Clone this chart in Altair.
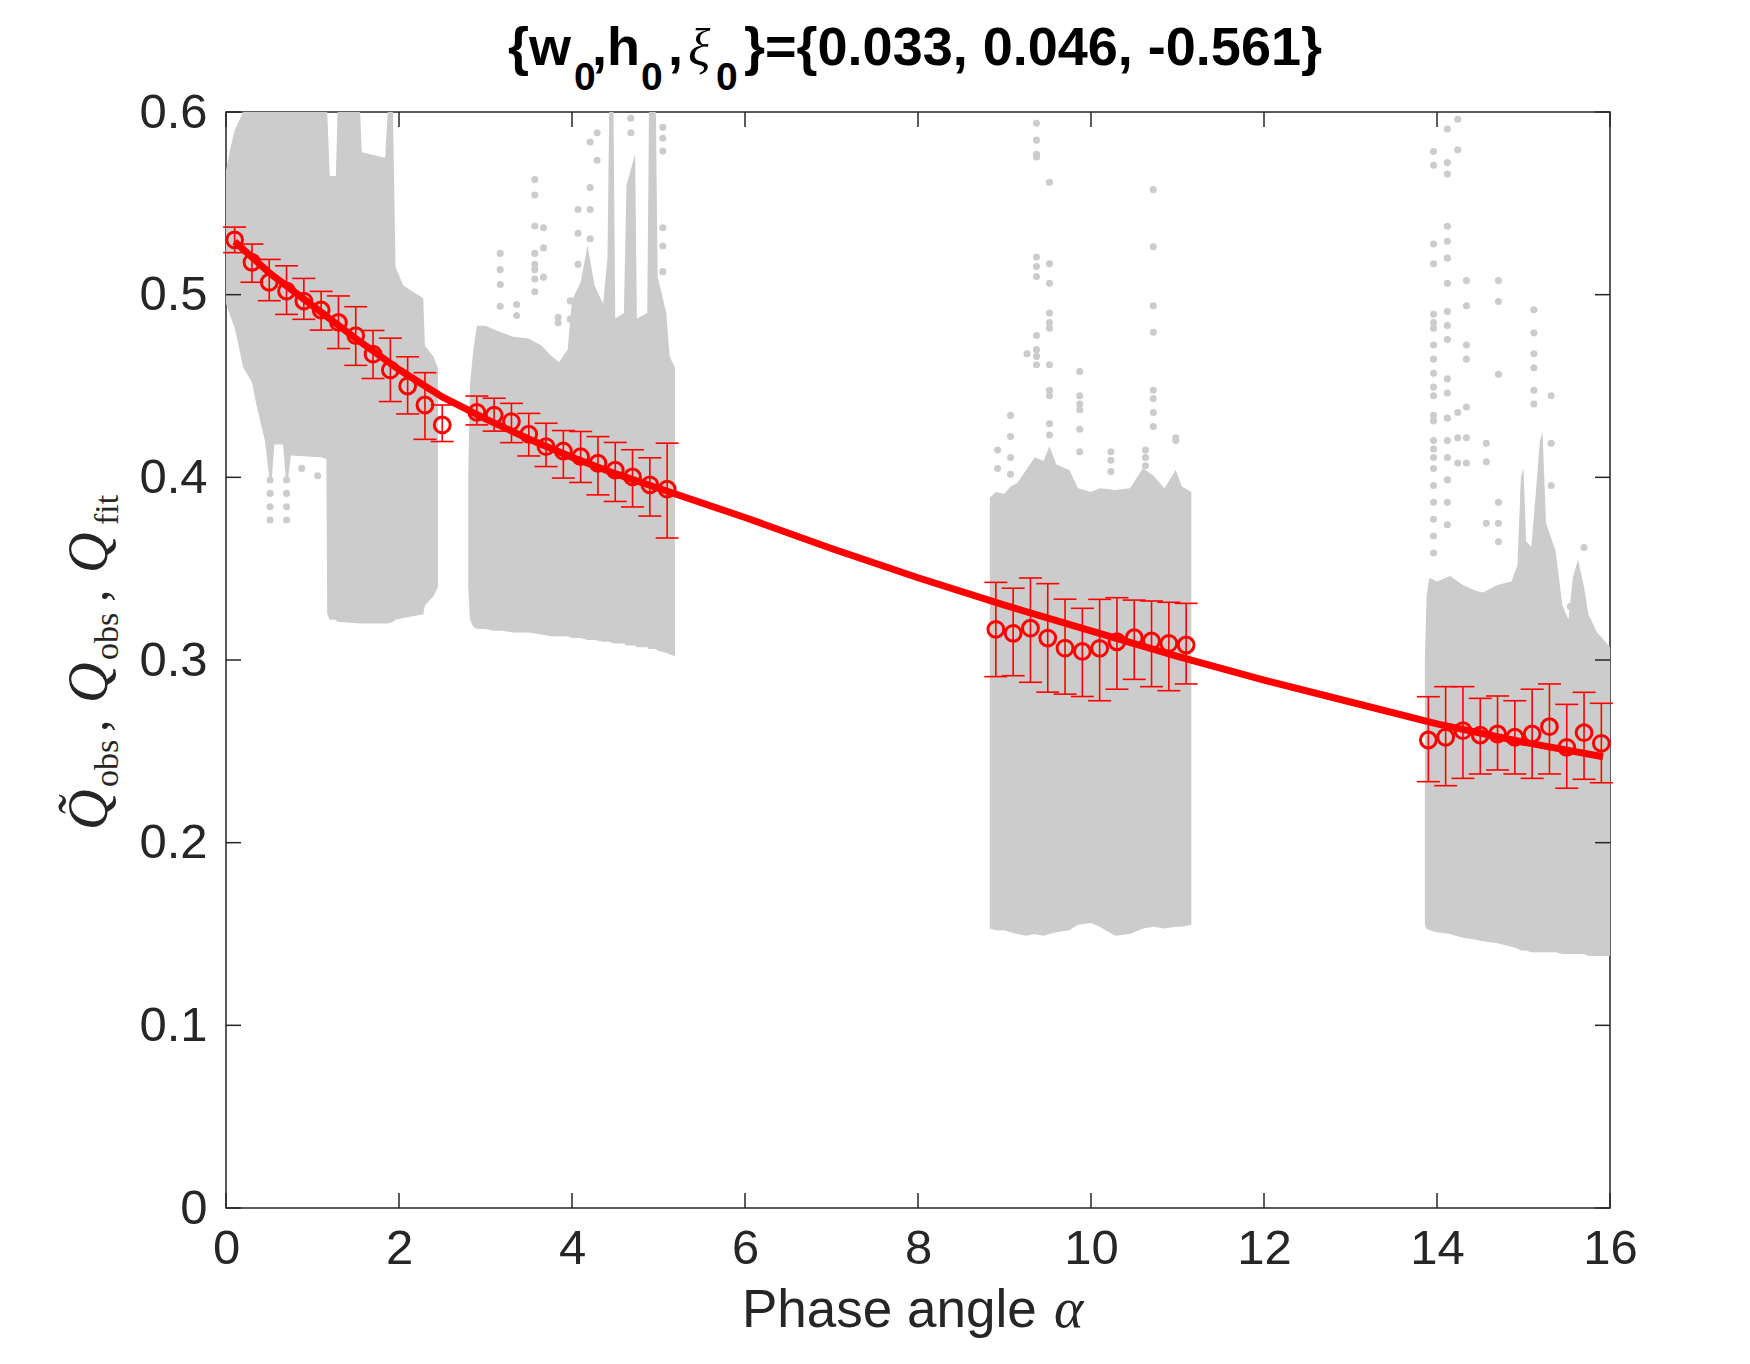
import altair as alt
import pandas as pd

# ---------------- data ----------------
# binned means with error bars
pt_x = [0.1, 0.3, 0.5, 0.7, 0.9, 1.1, 1.3, 1.5, 1.7, 1.9, 2.1, 2.3, 2.5,
        2.9, 3.1, 3.3, 3.5, 3.7, 3.9, 4.1, 4.3, 4.5, 4.7, 4.9, 5.1,
        8.9, 9.1, 9.3, 9.5, 9.7, 9.9, 10.1, 10.3, 10.5, 10.7, 10.9, 11.1,
        13.9, 14.1, 14.3, 14.5, 14.7, 14.9, 15.1, 15.3, 15.5, 15.7, 15.9]
pt_y = [0.5300, 0.5177, 0.5068, 0.5020, 0.4965, 0.4916, 0.4848, 0.4776, 0.4674, 0.4588, 0.4500, 0.4396, 0.4287,
        0.4356, 0.4341, 0.4305, 0.4236, 0.4168, 0.4144, 0.4113, 0.4077, 0.4039, 0.4002, 0.3959, 0.3935,
        0.3168, 0.3146, 0.3174, 0.3120, 0.3065, 0.3047, 0.3064, 0.3100, 0.3122, 0.3104, 0.3091, 0.3082,
        0.2562, 0.2577, 0.2613, 0.2589, 0.2595, 0.2577, 0.2595, 0.2635, 0.2522, 0.2602, 0.2544]
pt_hi = [0.5370, 0.5277, 0.5193, 0.5158, 0.5089, 0.5018, 0.4993, 0.4934, 0.4804, 0.4762, 0.4660, 0.4573, 0.4396,
         0.4445, 0.4433, 0.4405, 0.4350, 0.4296, 0.4256, 0.4251, 0.4223, 0.4191, 0.4151, 0.4107, 0.4187,
         0.3425, 0.3393, 0.3449, 0.3418, 0.3333, 0.3283, 0.3332, 0.3341, 0.3328, 0.3323, 0.3316, 0.3310,
         0.2799, 0.2854, 0.2854, 0.2790, 0.2803, 0.2777, 0.2840, 0.2869, 0.2757, 0.2823, 0.2763]
pt_lo = [0.5230, 0.5068, 0.4967, 0.4892, 0.4865, 0.4806, 0.4705, 0.4613, 0.4541, 0.4415, 0.4347, 0.4208, 0.4196,
         0.4287, 0.4253, 0.4190, 0.4117, 0.4059, 0.3996, 0.3972, 0.3904, 0.3868, 0.3838, 0.3788, 0.3668,
         0.2909, 0.2914, 0.2878, 0.2824, 0.2813, 0.2800, 0.2777, 0.2840, 0.2894, 0.2854, 0.2832, 0.2869,
         0.2334, 0.2312, 0.2352, 0.2376, 0.2398, 0.2376, 0.2352, 0.2376, 0.2298, 0.2347, 0.2328]

# fitted curve
fit_x = [0.1, 0.5, 1.0, 1.5, 2.0, 2.5, 3.0, 3.5, 4.0, 4.5, 5.0, 6.0, 7.0, 8.0, 9.0,
         10.0, 11.0, 12.0, 13.0, 14.0, 15.0, 15.92]
fit_y = [0.529, 0.512, 0.494, 0.476, 0.459, 0.444, 0.432, 0.421, 0.411, 0.402, 0.394, 0.378, 0.361,
         0.345, 0.330, 0.316, 0.302, 0.289, 0.277, 0.265, 0.255, 0.247]

# envelopes of the dense grey observation clouds
c1_x = [0.0, 0.05, 0.10, 0.20, 0.30, 0.35, 0.45, 0.50, 0.53, 0.56,
        0.66, 0.69, 0.72, 0.75, 1.10, 1.16, 1.17, 1.20, 1.27, 1.29,
        1.55, 1.57, 1.84, 1.87, 1.93, 1.96, 2.05, 2.28, 2.30, 2.40, 2.45]
c1_top = [0.568, 0.580, 0.590, 0.600, 0.600, 0.600, 0.600, 0.600, 0.600, 0.600,
          0.600, 0.600, 0.600, 0.600, 0.600, 0.600, 0.600, 0.565, 0.565, 0.600,
          0.600, 0.578, 0.575, 0.600, 0.600, 0.515, 0.505, 0.498, 0.472, 0.466, 0.460]
c1_bot = [0.495, 0.488, 0.482, 0.460, 0.452, 0.440, 0.420, 0.400, 0.400, 0.418,
          0.418, 0.400, 0.400, 0.412, 0.411, 0.410, 0.325, 0.322, 0.322, 0.321,
          0.320, 0.320, 0.320, 0.320, 0.321, 0.322, 0.323, 0.325, 0.330, 0.335, 0.340]

c2_x = [2.80, 2.82, 2.86, 2.90, 3.00, 3.09, 3.20, 3.32, 3.50, 3.65, 3.75, 3.85, 3.95,
        4.00, 4.10, 4.18, 4.26, 4.36, 4.41, 4.43, 4.48, 4.50, 4.60, 4.63, 4.73, 4.75,
        4.87, 4.89, 4.97, 4.99, 5.09, 5.13, 5.19]
c2_top = [0.400, 0.451, 0.470, 0.483, 0.483, 0.481, 0.479, 0.477, 0.476, 0.472, 0.467, 0.463, 0.470,
          0.497, 0.507, 0.527, 0.505, 0.495, 0.520, 0.600, 0.600, 0.487, 0.490, 0.560, 0.577, 0.487,
          0.490, 0.600, 0.600, 0.510, 0.490, 0.466, 0.460]
c2_bot = [0.340, 0.322, 0.318, 0.317, 0.317, 0.316, 0.316, 0.315, 0.315, 0.314, 0.313, 0.313, 0.313,
          0.312, 0.312, 0.311, 0.311, 0.310, 0.310, 0.310, 0.309, 0.309, 0.309, 0.308, 0.308, 0.307,
          0.307, 0.306, 0.306, 0.305, 0.304, 0.303, 0.302]

c3_x = [8.83, 8.90, 9.00, 9.07, 9.15, 9.25, 9.35, 9.45, 9.52, 9.60, 9.75, 9.85, 10.0,
        10.1, 10.28, 10.45, 10.6, 10.72, 10.85, 10.98, 11.05, 11.16]
c3_top = [0.389, 0.392, 0.391, 0.395, 0.397, 0.404, 0.411, 0.409, 0.417, 0.407, 0.404, 0.394, 0.392,
          0.394, 0.393, 0.394, 0.405, 0.401, 0.394, 0.404, 0.395, 0.392]
c3_bot = [0.153, 0.152, 0.152, 0.151, 0.150, 0.149, 0.150, 0.149, 0.150, 0.151, 0.152, 0.155, 0.156,
          0.154, 0.149, 0.150, 0.153, 0.154, 0.153, 0.154, 0.154, 0.155]

c4_x = [13.86, 13.88, 13.91, 14.0, 14.15, 14.30, 14.44, 14.53, 14.70, 14.86, 14.93, 14.97, 15.00,
        15.03, 15.09, 15.14, 15.19, 15.22, 15.26, 15.37, 15.45, 15.52, 15.57, 15.63, 15.70, 15.75,
        15.85, 15.93, 16.0]
c4_top = [0.300, 0.335, 0.345, 0.343, 0.346, 0.341, 0.338, 0.337, 0.341, 0.343, 0.352, 0.400, 0.405,
          0.365, 0.362, 0.390, 0.420, 0.425, 0.375, 0.360, 0.330, 0.322, 0.345, 0.355, 0.340, 0.325,
          0.315, 0.311, 0.307]
c4_bot = [0.155, 0.153, 0.152, 0.151, 0.150, 0.148, 0.147, 0.146, 0.145, 0.143, 0.142, 0.141, 0.141,
          0.141, 0.140, 0.140, 0.140, 0.140, 0.140, 0.140, 0.139, 0.139, 0.139, 0.139, 0.139, 0.138,
          0.138, 0.138, 0.138]

# isolated grey observations outside the dense clouds
dot_x = [0.51, 0.51, 0.51, 0.51, 0.70, 0.70, 0.70, 0.70, 0.875, 1.06,
         3.17, 3.17, 3.17, 3.17, 3.36, 3.36,
         3.57, 3.57, 3.57, 3.57, 3.57, 3.57, 3.57, 3.57,
         3.67, 3.67, 3.67, 3.84, 3.84, 3.98, 3.98,
         4.07, 4.07, 4.07, 4.21, 4.21, 4.21, 4.21, 4.29, 4.29,
         4.68, 4.68, 5.05, 5.05, 5.05, 5.05, 5.05, 5.05,
         8.92, 8.92, 9.07, 9.07, 9.07, 9.07, 9.26,
         9.37, 9.37, 9.37, 9.37, 9.37, 9.37, 9.37, 9.37, 9.37, 9.37, 9.37,
         9.52, 9.52, 9.52, 9.52, 9.52, 9.52, 9.52, 9.52, 9.52, 9.52, 9.52,
         9.87, 9.87, 9.87, 9.87, 9.87, 9.87,
         10.23, 10.23, 10.23, 10.63, 10.63, 10.63, 10.63,
         10.72, 10.72, 10.72, 10.72, 10.72, 10.72, 10.72, 10.72, 10.98, 10.98,
         13.96, 13.96, 13.96, 13.96, 13.96, 13.96, 13.96, 13.96, 13.96, 13.96, 13.96, 13.96,
         13.96, 13.96, 13.96, 13.96, 13.96, 13.96, 13.96, 13.96, 13.96, 13.96, 13.96,
         14.12, 14.12, 14.12, 14.12, 14.12, 14.12, 14.12, 14.12, 14.12, 14.12, 14.12, 14.12,
         14.12, 14.12, 14.12, 14.12, 14.12, 14.12,
         14.24, 14.24, 14.24, 14.24, 14.24,
         14.34, 14.34, 14.34, 14.34, 14.34, 14.34, 14.34,
         14.57, 14.57, 14.57, 14.71, 14.71, 14.71, 14.71, 14.71, 14.71,
         15.12, 15.12, 15.12, 15.12, 15.12, 15.12, 15.32, 15.32, 15.32, 15.54, 15.70]
dot_y = [0.3985, 0.3912, 0.3839, 0.3766, 0.3985, 0.3912, 0.3839, 0.3766, 0.4049, 0.4009,
         0.5226, 0.5137, 0.5056, 0.4936, 0.4946, 0.4886,
         0.5630, 0.5546, 0.5376, 0.5226, 0.5166, 0.5137, 0.5086, 0.5016,
         0.5366, 0.5256, 0.5096, 0.4876, 0.4846, 0.4966, 0.4866,
         0.5466, 0.5336, 0.5166, 0.5836, 0.5586, 0.5466, 0.5306, 0.5886, 0.5736,
         0.5966, 0.5886, 0.5916, 0.5856, 0.5786, 0.5366, 0.5266, 0.5126,
         0.4149, 0.4048, 0.4339, 0.4223, 0.4109, 0.4017, 0.4677,
         0.5938, 0.5846, 0.5769, 0.5754, 0.5206, 0.5154, 0.5099, 0.4776, 0.4699, 0.4662, 0.4616,
         0.5615, 0.5169, 0.5062, 0.4899, 0.4847, 0.4816, 0.4616, 0.4477, 0.4447, 0.4293, 0.4232,
         0.4579, 0.4447, 0.4401, 0.4370, 0.4263, 0.4140,
         0.4140, 0.4094, 0.4032, 0.4149, 0.4109, 0.4063, 0.4017,
         0.5575, 0.5262, 0.4939, 0.4794, 0.4477, 0.4431, 0.4355, 0.4278, 0.4217, 0.4201,
         0.5784, 0.5708, 0.5277, 0.5169, 0.4893, 0.4847, 0.4816, 0.4724, 0.4647, 0.4570, 0.4494, 0.4447,
         0.4339, 0.4309, 0.4201, 0.4155, 0.4109, 0.4048, 0.3955, 0.3863, 0.3771, 0.3679, 0.3586,
         0.5907, 0.5723, 0.5661, 0.5375, 0.5292, 0.5200, 0.5062, 0.4908, 0.4831, 0.4754, 0.4539, 0.4462,
         0.4324, 0.4201, 0.4109, 0.3986, 0.3863, 0.3740,
         0.5960, 0.5793, 0.4355, 0.4217, 0.4078,
         0.5077, 0.4939, 0.4724, 0.4647, 0.4385, 0.4217, 0.4078,
         0.4186, 0.4085, 0.3748, 0.5077, 0.4963, 0.4564, 0.3863, 0.3748, 0.3647,
         0.4917, 0.4791, 0.4677, 0.4600, 0.4477, 0.4401, 0.4447, 0.4186, 0.3955, 0.3293, 0.3616]

x_ticks = [0, 2, 4, 6, 8, 10, 12, 14, 16]
y_ticks = [0, 0.1, 0.2, 0.3, 0.4, 0.5, 0.6]

# ---------------- chart ----------------
W, H = 1384, 1096
GREY = "#cccccc"
RED = "#ff0000"
INK = "#262626"
TICK = 15

env = pd.concat([
    pd.DataFrame({"x": c1_x, "top": c1_top, "bot": c1_bot, "c": "a"}),
    pd.DataFrame({"x": c2_x, "top": c2_top, "bot": c2_bot, "c": "b"}),
    pd.DataFrame({"x": c3_x, "top": c3_top, "bot": c3_bot, "c": "c"}),
    pd.DataFrame({"x": c4_x, "top": c4_top, "bot": c4_bot, "c": "d"}),
], ignore_index=True)
pts = pd.DataFrame({"x": pt_x, "y": pt_y, "hi": pt_hi, "lo": pt_lo})
fit = pd.DataFrame({"x": fit_x, "y": fit_y})
dots = pd.DataFrame({"x": dot_x, "y": dot_y})
xt = pd.DataFrame({"x": x_ticks})
yt = pd.DataFrame({"y": y_ticks})
one = pd.DataFrame({"k": [0]})

xs = alt.Scale(domain=[0, 16], nice=False, zero=False)
ys = alt.Scale(domain=[0, 0.6], nice=False, zero=False)

x_axis = alt.Axis(values=x_ticks, ticks=False, domain=False, grid=False, title=None,
                  labelFontSize=49, labelFont="Liberation Sans", labelColor=INK,
                  labelPadding=16, labelFlush=False, labelOverlap=False,
                  labelExpr="format(datum.value, 'd')")
y_axis = alt.Axis(values=y_ticks, ticks=False, domain=False, grid=False, title=None,
                  labelFontSize=49, labelFont="Liberation Sans", labelColor=INK,
                  labelPadding=19, labelFlush=False, labelOverlap=False,
                  labelExpr="datum.value == 0 ? '0' : format(datum.value, '.1f')")


def X(f):
    return alt.X(f"{f}:Q", scale=xs, axis=x_axis, title=None)


def Y(f):
    return alt.Y(f"{f}:Q", scale=ys, axis=y_axis, title=None)


clouds = alt.Chart(env).mark_area(color=GREY, opacity=1, clip=True, interpolate="linear").encode(
    x=X("x"), y=Y("top"), y2="bot:Q", detail="c:N",
)

sparse = alt.Chart(dots).mark_circle(color=GREY, size=50, opacity=1).encode(
    x=X("x"), y=Y("y"),
)

fit_line = alt.Chart(fit).mark_line(color=RED, strokeWidth=7).encode(
    x=X("x"), y=Y("y"),
)

bars = alt.Chart(pts).mark_rule(color=RED, strokeWidth=1.6).encode(
    x=X("x"), y=Y("lo"), y2="hi:Q",
)
cap_hi = alt.Chart(pts).mark_rule(color=RED, strokeWidth=1.6, xOffset=-11.5, x2Offset=11.5).encode(
    x=X("x"), x2="x:Q", y=Y("hi"),
)
cap_lo = alt.Chart(pts).mark_rule(color=RED, strokeWidth=1.6, xOffset=-11.5, x2Offset=11.5).encode(
    x=X("x"), x2="x:Q", y=Y("lo"),
)
circles = alt.Chart(pts).mark_point(shape="circle", filled=False, color=RED, size=250,
                                    strokeWidth=3, opacity=1).encode(
    x=X("x"), y=Y("y"),
)

# inward tick marks on all four sides
tk_b = alt.Chart(xt).mark_rule(color=INK, strokeWidth=1.5).encode(
    x=X("x"), y=alt.value(H), y2=alt.value(H - TICK))
tk_t = alt.Chart(xt).mark_rule(color=INK, strokeWidth=1.5).encode(
    x=X("x"), y=alt.value(0), y2=alt.value(TICK))
tk_l = alt.Chart(yt).mark_rule(color=INK, strokeWidth=1.5).encode(
    y=Y("y"), x=alt.value(0), x2=alt.value(TICK))
tk_r = alt.Chart(yt).mark_rule(color=INK, strokeWidth=1.5).encode(
    y=Y("y"), x=alt.value(W - TICK), x2=alt.value(W))


def txt(s, x, y, size, font="Liberation Sans", style="normal", weight="normal",
        angle=0, align="left", color="#000000"):
    return alt.Chart(one).mark_text(
        text=s, fontSize=size, font=font, fontStyle=style, fontWeight=weight,
        angle=angle, align=align, baseline="alphabetic", color=color,
    ).encode(x=alt.value(x), y=alt.value(y))


SERIF = "Liberation Serif"
# title: {w0,h0,xi0}={0.033, 0.046, -0.561}
title = [
    txt("{w", 282, -47, 54, weight="bold"),
    txt("0", 348, -22, 39, weight="bold"),
    txt(",h", 366, -47, 54, weight="bold"),
    txt("0", 415, -22, 39, weight="bold"),
    txt(",", 442, -47, 54, weight="bold"),
    txt("ξ", 462, -47, 52, font=SERIF, style="italic"),
    txt("0", 490, -22, 39, weight="bold"),
    txt("}={0.033, 0.046, -0.561}", 518, -47, 54, weight="bold"),
]
# x axis title
xtitle = [
    txt("Phase angle", 516, 1215, 53, color=INK),
    txt("α", 828, 1215, 56, font=SERIF, style="italic", color=INK),
]
# y axis title (rotated): Q~_obs, Q_obs, Q_fit
YB, YS = -119, -108
ytitle = [
    txt("Q\u0303", YB, 718, 56, font=SERIF, style="italic", angle=270, color=INK),
    txt("obs", YS, 675, 34, font=SERIF, angle=270, color=INK),
    txt(",", YB, 620, 50, font=SERIF, angle=270, color=INK),
    txt("Q", YB, 591, 56, font=SERIF, style="italic", angle=270, color=INK),
    txt("obs", YS, 548, 34, font=SERIF, angle=270, color=INK),
    txt(",", YB, 490, 50, font=SERIF, angle=270, color=INK),
    txt("Q", YB, 461, 56, font=SERIF, style="italic", angle=270, color=INK),
    txt("fit", YS, 413, 34, font=SERIF, angle=270, color=INK),
]

chart = alt.layer(
    clouds, sparse, fit_line, bars, cap_hi, cap_lo, circles,
    tk_b, tk_t, tk_l, tk_r, *title, *xtitle, *ytitle,
).properties(
    width=W, height=H,
    padding={"left": 218, "top": 104, "right": 130, "bottom": 140},
    autosize=alt.AutoSizeParams(type="none"),
    background="white",
).configure_view(stroke=INK, strokeWidth=1.5)

chart.save("out.html", embed_options={"renderer": "svg", "actions": False})
